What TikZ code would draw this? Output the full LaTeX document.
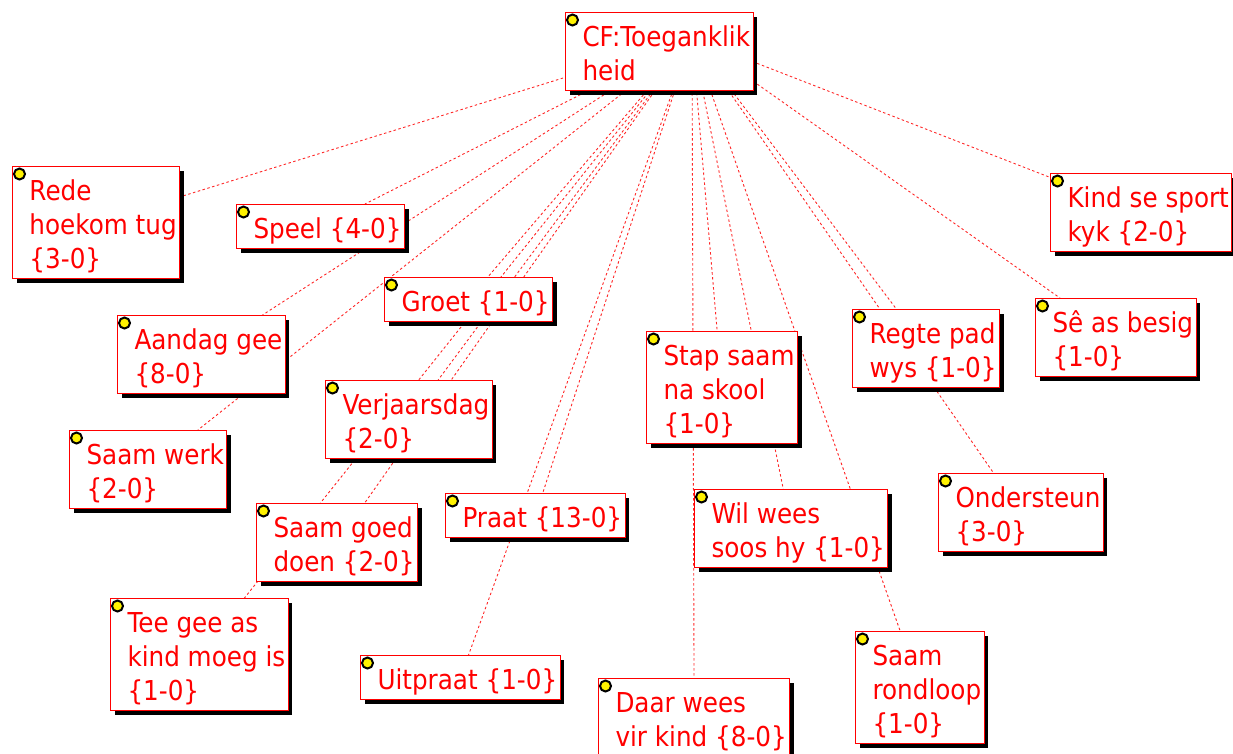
\documentclass[tikz,border=0pt]{standalone}
\usepackage{fontspec}
\setmainfont{DejaVu Sans}[FakeStretch=0.9]
\usetikzlibrary{shadows,backgrounds}

\newcommand{\codelines}[1]{\begin{tabular}{@{\hspace{17pt}}l@{\hspace{3pt}}}\rule{0pt}{34pt}#1\end{tabular}}

\begin{document}
\begin{tikzpicture}[x=1pt, y=-1pt,
    code/.style={draw=red, line width=1pt, fill=white, text=red, inner sep=0pt, anchor=north west,
        font=\fontsize{27.4}{34}\selectfont,
        general shadow={fill=black, shadow xshift=4pt, shadow yshift=-4pt}},
    link/.style={red!85, line width=0.9pt, dash pattern=on 2.5pt off 2.5pt}]
    \useasboundingbox (0,0) rectangle (1233,753);

    % Family node
    \node[code] (cf) at (565,12) {\codelines{CF:Toeganklik\\heid}};
    \coordinate (hub) at (692,38);

    % Codes, left side
    \node[code] (rede) at (12,166) {\codelines{Rede\\hoekom tug\\\{3-0\}}};
    \node[code] (speel) at (236,204) {\codelines{Speel \{4-0\}}};
    \node[code] (groet) at (384,277) {\codelines{Groet \{1-0\}}};
    \node[code] (aandag) at (117,315) {\codelines{Aandag gee\\\{8-0\}}};
    \node[code] (verjaar) at (325,380) {\codelines{Verjaarsdag\\\{2-0\}}};
    \node[code] (saamwerk) at (69,430) {\codelines{Saam werk\\\{2-0\}}};
    \node[code] (saamgoed) at (256,503) {\codelines{Saam goed\\doen \{2-0\}}};
    \node[code] (teegee) at (110,598) {\codelines{Tee gee as\\kind moeg is\\\{1-0\}}};
    \node[code] (praat) at (445,493) {\codelines{Praat \{13-0\}}};
    \node[code] (uitpraat) at (360,655) {\codelines{Uitpraat \{1-0\}}};

    % Codes, right side
    \node[code] (stap) at (646,331) {\codelines{Stap saam\\na skool\\\{1-0\}}};
    \node[code] (wilwees) at (694,489) {\codelines{Wil wees\\soos hy \{1-0\}}};
    \node[code] (daar) at (598,678) {\codelines{Daar wees\\vir kind \{8-0\}}};
    \node[code] (regte) at (852,309) {\codelines{Regte pad\\wys \{1-0\}}};
    \node[code] (sebesig) at (1035,298) {\codelines{Sê as besig\\\{1-0\}}};
    \node[code] (sport) at (1050,173) {\codelines{Kind se sport\\kyk \{2-0\}}};
    \node[code] (onder) at (938,473) {\codelines{Ondersteun\\\{3-0\}}};
    \node[code] (rondloop) at (855,631) {\codelines{Saam\\rondloop\\\{1-0\}}};

    % Code icons
    \foreach \n in {cf,rede,speel,groet,aandag,verjaar,saamwerk,saamgoed,teegee,praat,uitpraat,stap,wilwees,daar,regte,sebesig,sport,onder,rondloop} {
        \filldraw[fill=yellow, draw=black, line width=2pt] ([xshift=7.5pt, yshift=-8pt]\n.north west) circle (5.5pt);
    }

    % Links from the family to every code
    \begin{scope}[on background layer]
        \foreach \n in {rede,speel,groet,aandag,verjaar,saamwerk,saamgoed,teegee,praat,uitpraat,stap,wilwees,daar,regte,sebesig,sport,onder,rondloop} {
            \draw[link] (hub) -- (\n);
        }
    \end{scope}
\end{tikzpicture}
\end{document}
